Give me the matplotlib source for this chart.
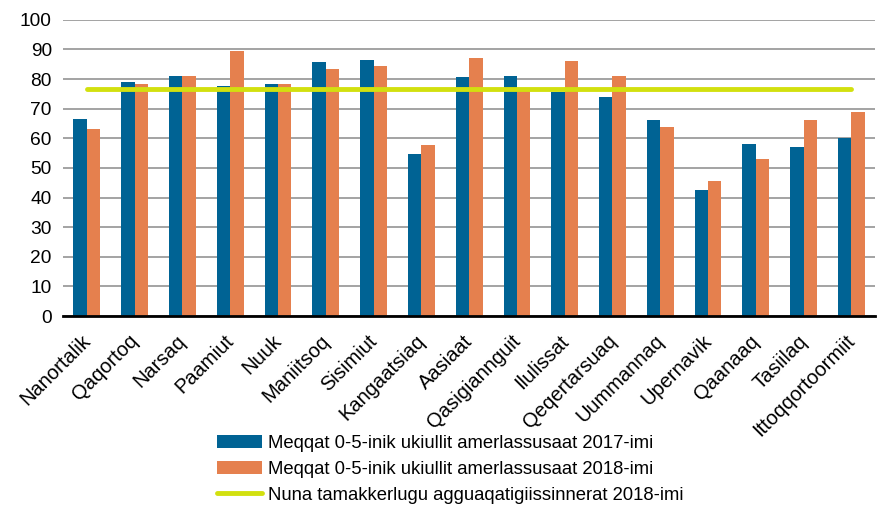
import numpy as np
import matplotlib
matplotlib.use("Agg")
import matplotlib.pyplot as plt
import matplotlib.transforms as mtransforms

plt.rcParams["font.family"] = ["Liberation Sans", "DejaVu Sans"]

towns = ["Nanortalik", "Qaqortoq", "Narsaq", "Paamiut", "Nuuk", "Maniitsoq",
         "Sisimiut", "Kangaatsiaq", "Aasiaat", "Qasigiannguit", "Ilulissat",
         "Qeqertarsuaq", "Uummannaq", "Upernavik", "Qaanaaq", "Tasiilaq",
         "Ittoqqortoormiit"]
val_2017 = [66.4, 79.1, 81.1, 77.8, 78.4, 85.8, 86.4, 54.6, 80.6, 81.1, 75.8,
            73.9, 66.1, 42.5, 58.0, 57.2, 60.0]
val_2018 = [63.2, 78.3, 80.9, 89.5, 78.2, 83.4, 84.5, 57.9, 87.2, 76.9, 86.0,
            81.2, 63.7, 45.6, 53.0, 66.3, 68.9]
national_2018 = 76.5

lbl_2017 = "Meqqat 0-5-inik ukiullit amerlassusaat 2017-imi"
lbl_2018 = "Meqqat 0-5-inik ukiullit amerlassusaat 2018-imi"
lbl_line = "Nuna tamakkerlugu agguaqatigiissinnerat 2018-imi"

fig = plt.figure(figsize=(8.82, 5.09), dpi=100)
ax = fig.add_axes([0.0714, 0.379, 0.921, 0.582])

x = np.arange(len(towns))
w = 0.28
ax.bar(x - w / 2, val_2017, w, color="#006394", label=lbl_2017, zorder=3)
ax.bar(x + w / 2, val_2018, w, color="#E5804E", label=lbl_2018, zorder=3)
ax.plot([x[0], x[-1]], [national_2018, national_2018], color="#D2E00F",
        lw=3.5, solid_capstyle="round", label=lbl_line, zorder=4)

ax.set_xlim(-0.5, len(towns) - 0.5)
ax.set_ylim(0, 100)
ax.set_yticks(range(0, 101, 10))
ax.yaxis.grid(True, color="#9c9c9c", lw=1.3, zorder=0)
for s in ["top", "right", "left"]:
    ax.spines[s].set_visible(False)
ax.spines["bottom"].set_linewidth(2)
ax.spines["bottom"].set_zorder(5)
ax.tick_params(axis="both", length=0)
ax.tick_params(axis="y", pad=8, labelsize=13.8)
ax.set_xticks(x)
ax.set_xticklabels(towns, rotation=45, ha="right", va="top",
                   rotation_mode="anchor", fontsize=14.5)
ax.tick_params(axis="x", pad=11)
shift = mtransforms.ScaledTranslation(-6 / 100, 0, fig.dpi_scale_trans)
for t in ax.get_xticklabels():
    t.set_transform(t.get_transform() + shift)

handles, labels = ax.get_legend_handles_labels()
order = [1, 2, 0]
leg = fig.legend([handles[i] for i in order], [labels[i] for i in order],
                 loc="lower left", bbox_to_anchor=(0.227, -0.022),
                 frameon=False, fontsize=13.3, handlelength=2.45,
                 handletextpad=0.3, labelspacing=0.48)

fig.savefig("out.png", dpi=100)
